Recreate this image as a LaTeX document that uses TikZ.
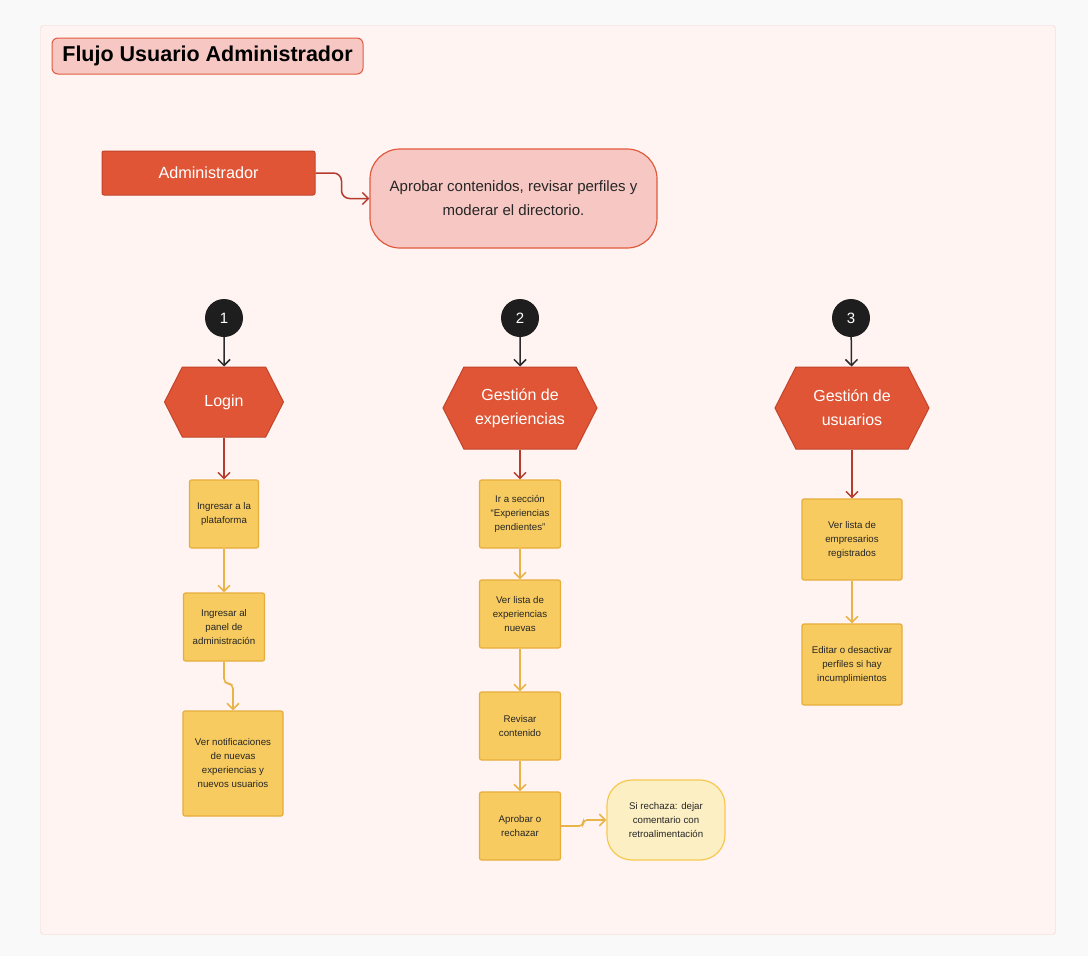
\documentclass[tikz,border=0pt]{standalone}
\usepackage{fontspec}
\setmainfont{Liberation Sans}
\usetikzlibrary{arrows.meta, shapes.symbols}

\definecolor{pagebg}{HTML}{F9F9F9}
\definecolor{framebg}{HTML}{FFF4F2}
\definecolor{frameline}{HTML}{F5CEC9}
\definecolor{pinkfill}{HTML}{F7C8C3}
\definecolor{pinkline}{HTML}{E05A3E}
\definecolor{orangefill}{HTML}{E05535}
\definecolor{orangeline}{HTML}{C2442B}
\definecolor{redarrow}{HTML}{B53B2C}
\definecolor{darkfill}{HTML}{1E1E1E}
\definecolor{darkarrow}{HTML}{2B2B2B}
\definecolor{yellowfill}{HTML}{F7CB5F}
\definecolor{yellowline}{HTML}{E6AD3B}
\definecolor{yellowarrow}{HTML}{E8B449}
\definecolor{creamfill}{HTML}{FDEFC4}
\definecolor{creamline}{HTML}{F5C850}

\tikzset{
  titlebox/.style={draw=pinkline, fill=pinkfill, line width=1, rounded corners=6,
    minimum width=311, minimum height=36, inner sep=0,
    font=\fontsize{21.5}{24}\selectfont\bfseries},
  rolebox/.style={draw=orangeline, fill=orangefill, line width=1, rounded corners=2,
    minimum width=213, minimum height=44, inner sep=0, text=white,
    font=\fontsize{16.2}{18}\selectfont},
  notebox/.style={draw=pinkline, fill=pinkfill, line width=1.2, rounded corners=30,
    minimum width=287, minimum height=99, inner sep=0, align=center,
    font=\fontsize{15}{24}\selectfont, text=black!85},
  stepnum/.style={circle, fill=darkfill, minimum size=38, inner sep=0, text=white,
    font=\fontsize{15}{16}\selectfont},
  phase/.style={signal, signal to=west and east, signal pointer angle=126,
    draw=orangeline, fill=orangefill, line width=1, inner sep=0, text=white,
    align=center, font=\fontsize{16}{24}\selectfont},
  task/.style={draw=yellowline, fill=yellowfill, line width=1.2, rounded corners=2,
    inner sep=0, align=center, text=black!85, font=\fontsize{9.7}{14}\selectfont},
  sidenote/.style={draw=creamline, fill=creamfill, line width=1.2, rounded corners=25,
    minimum width=118, minimum height=80, inner sep=0, align=center,
    text=black!85, font=\fontsize{9.7}{14}\selectfont},
  darklink/.style={draw=darkarrow, line width=1.5, -{Straight Barb[length=6,width=12]}},
  redlink/.style={draw=redarrow, line width=1.5, -{Straight Barb[length=6,width=12]}},
  yellowlink/.style={draw=yellowarrow, line width=1.6, -{Straight Barb[length=6,width=12]}},
}

\begin{document}
\begin{tikzpicture}[x=1pt, y=-1pt]
    \useasboundingbox[fill=pagebg] (0,0) rectangle (1088,956);
    \draw[draw=frameline, fill=framebg, rounded corners=3] (40.5,25.5) rectangle (1055.5,934.5);

    \node(title)[titlebox] at (207.5,56) {Flujo Usuario Administrador};
    \node(admin)[rolebox] at (208.5,173) {Administrador};
    \node(goal)[notebox] at (513.5,198.5) {Aprobar contenidos, revisar perfiles y\\moderar el directorio.};
    \draw[redlink, rounded corners=8] (admin.east) -- ++(26,0) |- (goal.west);

    % numbered phases
    \node(n1)[stepnum] at (224,318) {1};
    \node(n2)[stepnum] at (520,318) {2};
    \node(n3)[stepnum] at (851,318) {3};
    \node(login)[phase, minimum width=119, minimum height=70] at (224,402) {Login};
    \node(exper)[phase, minimum width=154, minimum height=82] at (520,408) {Gestión de\\experiencias};
    \node(users)[phase, minimum width=154, minimum height=82] at (852,408) {Gestión de\\usuarios};
    \draw[darklink] (n1) -- (login);
    \draw[darklink] (n2) -- (exper);
    \draw[darklink] (n3) -- (users);

    % column 1
    \node(l1)[task, minimum width=69, minimum height=68] at (224,514) {Ingresar a la\\plataforma};
    \node(l2)[task, minimum width=81, minimum height=68] at (224,627) {Ingresar al\\panel de\\administración};
    \node(l3)[task, minimum width=100, minimum height=105] at (233,763.5) {Ver notificaciones\\de nuevas\\experiencias y\\nuevos usuarios};
    \draw[redlink] (login.south) -- (l1.north);
    \draw[yellowlink] (l1) -- (l2);
    \draw[yellowlink, rounded corners=5] (l2.south) -- ++(0,22) -| (l3.north);

    % column 2
    \node(e1)[task, minimum width=81, minimum height=68] at (520,514) {Ir a sección\\“Experiencias\\pendientes”};
    \node(e2)[task, minimum width=81, minimum height=68] at (520,614) {Ver lista de\\experiencias\\nuevas};
    \node(e3)[task, minimum width=81, minimum height=68] at (520,726) {Revisar\\contenido};
    \node(e4)[task, minimum width=81, minimum height=68] at (520,826) {Aprobar o\\rechazar};
    \node(reject)[sidenote] at (666,820) {Si rechaza: dejar\\comentario con\\retroalimentación};
    \draw[redlink] (exper.south) -- (e1.north);
    \draw[yellowlink] (e1) -- (e2);
    \draw[yellowlink] (e2) -- (e3);
    \draw[yellowlink] (e3) -- (e4);
    \draw[yellowlink, rounded corners=4] (e4.east) -- ++(22,0) |- (reject.west);

    % column 3
    \node(u1)[task, minimum width=100, minimum height=81] at (852,539.5) {Ver lista de\\empresarios\\registrados};
    \node(u2)[task, minimum width=100, minimum height=81] at (852,664.5) {Editar o desactivar\\perfiles si hay\\incumplimientos};
    \draw[redlink] (users.south) -- (u1.north);
    \draw[yellowlink] (u1) -- (u2);
\end{tikzpicture}
\end{document}
